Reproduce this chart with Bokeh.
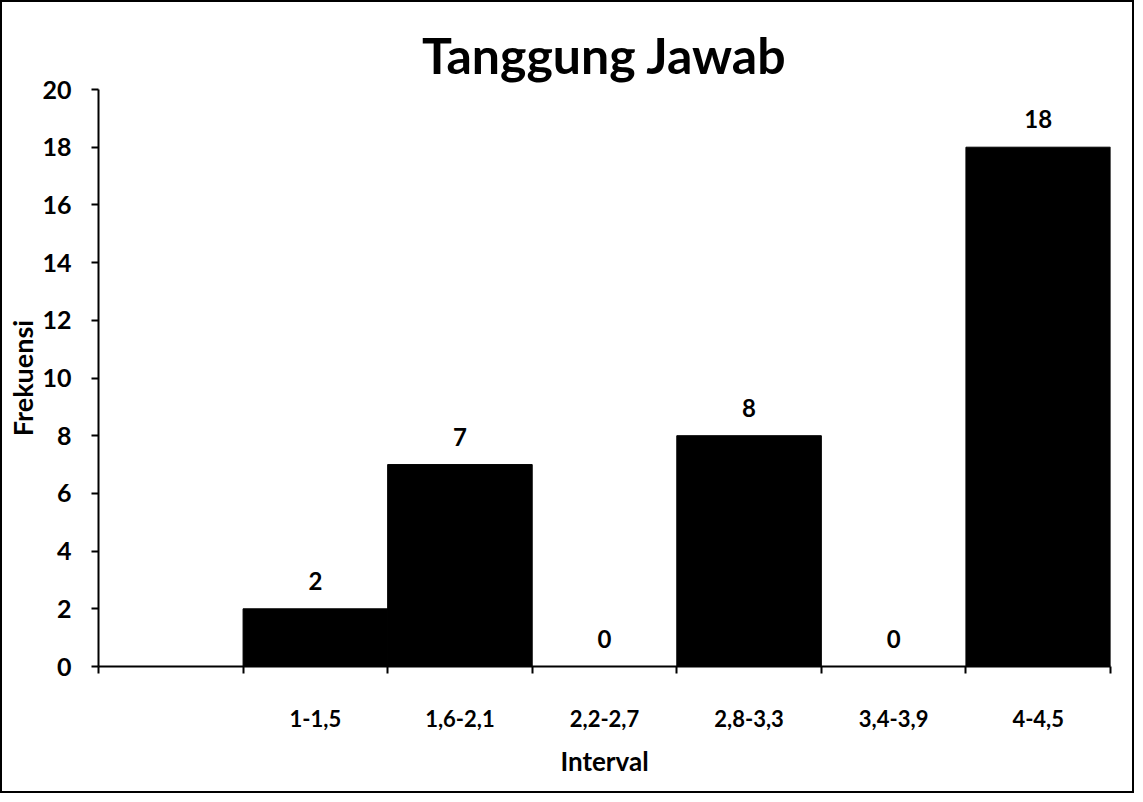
from bokeh.plotting import figure
from bokeh.models import FixedTicker, ColumnDataSource, Range1d
from bokeh.core.properties import value
from bokeh.embed import file_html
from bokeh.resources import INLINE

# ---- data ----
title_text = "Tanggung Jawab"
x_title = "Interval"
y_title = "Frekuensi"
categories = ["1-1,5", "1,6-2,1", "2,2-2,7", "2,8-3,3", "3,4-3,9", "4-4,5"]
frequencies = [2, 7, 0, 8, 0, 18]
y_ticks = [0, 2, 4, 6, 8, 10, 12, 14, 16, 18, 20]

FONT = "Lato"
n_slots = len(categories) + 1  # leading empty slot, as in the original
centers = [i + 1.5 for i in range(len(categories))]

src = ColumnDataSource(dict(
    x=centers,
    top=frequencies,
    lab=[str(v) for v in frequencies],
))

p = figure(width=1134, height=793, output_backend="svg", toolbar_location=None,
           x_range=Range1d(0, n_slots), y_range=Range1d(0, 20),
           min_border_left=96, min_border_right=26, min_border_top=87,
           min_border_bottom=129,
           styles={"border": "2px solid black", "box-sizing": "border-box"})

p.title.text = title_text
p.title.align = "center"
p.title.text_font = FONT
p.title.text_font_style = "bold"
p.title.text_font_size = "50px"
p.title.text_color = "black"
p.title.offset = 0

p.vbar(x="x", top="top", width=1.0, bottom=0, source=src,
       fill_color="black", line_color="black")
p.text(x="x", y="top", text="lab", source=src, text_align="center",
       text_baseline="middle", y_offset=-28, text_font=value(FONT),
       text_font_style="bold", text_font_size="24px", text_color="black")

# x axis: labels at centers, tick marks at slot boundaries
xt = FixedTicker(ticks=[0.5] + centers, minor_ticks=list(range(0, n_slots + 1)))
p.xaxis.ticker = xt
p.xaxis.major_label_overrides = {0.5: ""} | {c: lab for c, lab in zip(centers, categories)}
p.xaxis.major_tick_out = 0
p.xaxis.major_tick_in = 0
p.xaxis.minor_tick_out = 7
p.xaxis.minor_tick_in = 0
p.xaxis.minor_tick_line_color = "black"
p.xaxis.minor_tick_line_width = 2
p.xaxis.axis_line_color = "black"
p.xaxis.axis_line_width = 2
p.xaxis.major_label_standoff = 36
p.xaxis.major_label_text_font = FONT
p.xaxis.major_label_text_font_style = "bold"
p.xaxis.major_label_text_font_size = "22px"
p.xaxis.major_label_text_color = "black"
p.xaxis.axis_label = x_title
p.xaxis.axis_label_text_font = FONT
p.xaxis.axis_label_text_font_style = "bold"
p.xaxis.axis_label_text_font_size = "26px"
p.xaxis.axis_label_text_color = "black"
p.xaxis.axis_label_standoff = 15

p.yaxis.ticker = FixedTicker(ticks=y_ticks)
p.yaxis.minor_tick_line_color = None
p.yaxis.major_tick_out = 7
p.yaxis.major_tick_in = 0
p.yaxis.major_tick_line_color = "black"
p.yaxis.major_tick_line_width = 2
p.yaxis.axis_line_color = "black"
p.yaxis.axis_line_width = 2
p.yaxis.major_label_standoff = 20
p.yaxis.major_label_text_font = FONT
p.yaxis.major_label_text_font_style = "bold"
p.yaxis.major_label_text_font_size = "25px"
p.yaxis.major_label_text_color = "black"
p.yaxis.axis_label = y_title
p.yaxis.axis_label_text_font = FONT
p.yaxis.axis_label_text_font_style = "bold"
p.yaxis.axis_label_text_font_size = "27px"
p.yaxis.axis_label_text_color = "black"
p.yaxis.axis_label_standoff = 0

p.xgrid.grid_line_color = None
p.ygrid.grid_line_color = None
p.outline_line_color = None
p.background_fill_color = "white"
p.border_fill_color = "white"

open("out.html", "w").write(file_html(p, INLINE))
